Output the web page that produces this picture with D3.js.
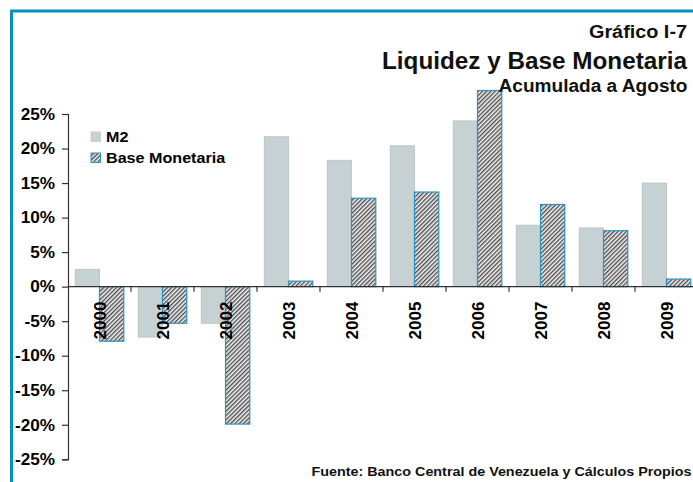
<!DOCTYPE html>
<html>
<head>
<meta charset="utf-8">
<script src="https://cdn.jsdelivr.net/npm/d3@7"></script>
<style>
  body { margin: 0; background: #fff; }
  svg { display: block; font-family: "Liberation Sans", Arial, sans-serif; }
</style>
</head>
<body>
<div class="area"></div>
<script>
const width = 693
const height = 482

const years = ["2000", "2001", "2002", "2003", "2004", "2005", "2006", "2007", "2008", "2009"]
const m2 = [2.5, -7.3, -5.3, 21.7, 18.3, 20.4, 24.0, 8.9, 8.5, 15.0]
const baseMonetaria = [-7.9, -5.3, -19.9, 0.8, 12.8, 13.7, 28.4, 11.9, 8.1, 1.1]
const yTicks = [25, 20, 15, 10, 5, 0, -5, -10, -15, -20, -25]
const seriesNames = ["M2", "Base Monetaria"]

const frameColor = "#0a8ec2"
const m2Color = "#c5d1d2"
const axisColor = "#333"

// stretch text horizontally a bit, like the original picture
function stretch(sel, factor) {
  sel.each(function () {
    const len = this.getComputedTextLength()
    d3.select(this)
      .attr("textLength", len * factor)
      .attr("lengthAdjust", "spacingAndGlyphs")
  })
}

const svg = d3.select(".area")
  .append("svg")
  .attr("width", width)
  .attr("height", height)

const defs = svg.append("defs")
const pat = defs.append("pattern")
  .attr("id", "hatch")
  .attr("patternUnits", "userSpaceOnUse")
  .attr("width", 3)
  .attr("height", 3)
  .attr("patternTransform", "rotate(45)")
pat.append("rect").attr("width", 3).attr("height", 3).attr("fill", "#f4f4f4")
pat.append("rect").attr("width", 1.4).attr("height", 3).attr("fill", "#4d4d4d")

// outer frame (runs off the right and bottom edges)
svg.append("rect")
  .attr("x", 11.5).attr("y", 11)
  .attr("width", 700).attr("height", 500)
  .attr("fill", "none")
  .attr("stroke", frameColor)
  .attr("stroke-width", 3)

const x0 = d3.scaleBand()
  .domain(years)
  .range([68, 698])
  .paddingInner(0.229)
  .paddingOuter(0.1145)

const x1 = d3.scaleBand()
  .domain([0, 1])
  .range([0, x0.bandwidth()])

const y = d3.scaleLinear()
  .domain([-25, 25])
  .range([459.3, 114])

const bars = svg.append("g")

bars.selectAll(".m2")
  .data(m2)
  .enter()
  .append("rect")
  .attr("x", (d, i) => x0(years[i]) + x1(0))
  .attr("y", d => y(Math.max(0, d)))
  .attr("width", x1.bandwidth())
  .attr("height", d => Math.abs(y(d) - y(0)))
  .attr("fill", m2Color)
  .attr("stroke", "#b8c0c0")
  .attr("stroke-width", 0.8)

bars.selectAll(".bm")
  .data(baseMonetaria)
  .enter()
  .append("rect")
  .attr("x", (d, i) => x0(years[i]) + x1(1))
  .attr("y", d => y(Math.max(0, d)))
  .attr("width", x1.bandwidth())
  .attr("height", d => Math.abs(y(d) - y(0)))
  .attr("fill", "url(#hatch)")
  .attr("stroke", "#2b93c0")
  .attr("stroke-width", 1.2)

// y axis
const yAxis = svg.append("g")
  .attr("transform", "translate(68,0)")
  .call(d3.axisLeft(y).tickValues(yTicks).tickSize(6).tickPadding(7).tickFormat(d => d + "%"))
yAxis.select(".domain").attr("stroke", axisColor).attr("stroke-width", 1.2)
yAxis.selectAll(".tick line").attr("stroke", axisColor).attr("stroke-width", 1.2)
yAxis.selectAll(".tick text")
  .attr("fill", "#000")
  .attr("font-size", 16.5)
  .attr("font-weight", "bold")
  .attr("font-family", "Liberation Sans, Arial, sans-serif")
  .call(stretch, 1.04)

// x axis at zero with ticks between categories
const xAxis = svg.append("g")
const boundaries = years.map(yr => x0(yr) - x0.step() * x0.paddingOuter())
xAxis.append("line")
  .attr("x1", 68).attr("x2", 698)
  .attr("y1", y(0)).attr("y2", y(0))
  .attr("stroke", axisColor)
  .attr("stroke-width", 1.2)
xAxis.selectAll(".xt")
  .data(boundaries.slice(1))
  .enter()
  .append("line")
  .attr("x1", d => d).attr("x2", d => d)
  .attr("y1", y(0)).attr("y2", y(0) + 5)
  .attr("stroke", axisColor)
  .attr("stroke-width", 1.2)
xAxis.selectAll(".xl")
  .data(years)
  .enter()
  .append("text")
  .attr("transform", d => `translate(${x0(d) + x0.bandwidth() / 2 + 6.5},${y(0) + 15}) rotate(-90)`)
  .attr("text-anchor", "end")
  .attr("font-size", 17)
  .attr("font-weight", "bold")
  .text(d => d)

// legend
const legend = svg.append("g")
legend.append("rect")
  .attr("x", 90.5).attr("y", 131.5).attr("width", 10.5).attr("height", 10.5)
  .attr("fill", m2Color)
legend.append("rect")
  .attr("x", 91).attr("y", 153).attr("width", 9.5).attr("height", 9.5)
  .attr("fill", "url(#hatch)")
  .attr("stroke", "#2b93c0")
  .attr("stroke-width", 1)
legend.selectAll(".lt")
  .data(seriesNames)
  .enter()
  .append("text")
  .attr("x", 106)
  .attr("y", (d, i) => 141.7 + i * 21.6)
  .attr("font-size", 15.5)
  .attr("font-weight", "bold")
  .text(d => d)
  .call(stretch, 1.04)

// titles
const titles = [
  { text: "Gráfico I-7", x: 687, y: 37.5, size: 18, len: 98 },
  { text: "Liquidez y Base Monetaria", x: 687, y: 68.5, size: 23, len: 305 },
  { text: "Acumulada a Agosto", x: 687.5, y: 92, size: 17.5, len: 189 },
  { text: "Fuente: Banco Central de Venezuela y Cálculos Propios", x: 691.5, y: 475.5, size: 13, len: 380 }
]
svg.selectAll(".title")
  .data(titles)
  .enter()
  .append("text")
  .attr("x", d => d.x)
  .attr("y", d => d.y)
  .attr("text-anchor", "end")
  .attr("font-size", d => d.size)
  .attr("font-weight", "bold")
  .attr("fill", "#111")
  .attr("textLength", d => d.len)
  .attr("lengthAdjust", "spacingAndGlyphs")
  .text(d => d.text)
</script>
</body>
</html>
